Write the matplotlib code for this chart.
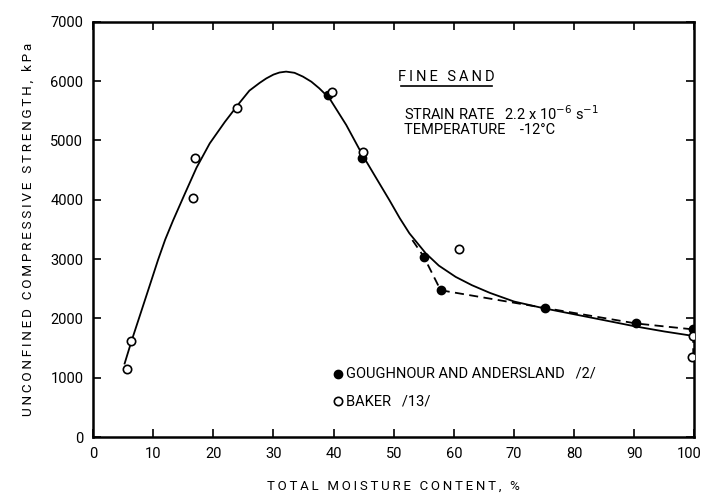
import matplotlib
matplotlib.use("Agg")
import matplotlib.pyplot as plt
from matplotlib.transforms import ScaledTranslation

plt.rcParams['font.family'] = ['Roboto', 'DejaVu Sans']

# Goughnour and Andersland /2/ (filled)
ga_moisture = [39.1, 44.7, 55.0, 57.8, 75.2, 90.3, 99.7]
ga_strength = [5760, 4710, 3040, 2475, 2175, 1915, 1815]

# Baker /13/ (open)
baker_moisture = [5.7, 6.3, 16.7, 16.9, 24.0, 39.8, 44.9, 60.9, 99.7, 99.6]
baker_strength = [1150, 1620, 4030, 4700, 5550, 5810, 4810, 3175, 1710, 1345]

# hand-drawn trend curve
curve_x = [5.25, 6.4, 8.0, 9.5, 10.8, 12.0, 13.3, 15.3, 17.2, 19.4, 21.9,
           24.4, 26.0, 27.7, 28.8, 30.0, 31.0, 32.1, 33.5, 34.9, 36.3,
           37.6, 39.3, 42.1, 44.8, 47.0, 49.3, 51.0, 52.6, 55.3, 57.5,
           60.3, 63.0, 66.0, 70.0, 75.0, 80.0, 85.0, 90.2, 95.0, 99.8]
curve_y = [1240, 1620, 2115, 2580, 2985, 3330, 3650, 4110, 4540, 4950, 5310,
           5640, 5840, 5970, 6045, 6110, 6145, 6160, 6140, 6076, 5990,
           5880, 5712, 5261, 4755, 4380, 3990, 3690, 3435, 3100, 2890,
           2700, 2560, 2430, 2285, 2170, 2070, 1970, 1865, 1780, 1705]

# dashed line through Goughnour points
dash_x = [53.1, 55.0, 57.8, 75.2, 90.3, 99.8, 99.8]
dash_y = [3320, 3040, 2475, 2175, 1915, 1815, 1345]

fig = plt.figure(figsize=(7.05, 4.95), dpi=100)
ax = fig.add_axes([0.132, 0.117, 0.853, 0.839])

ax.plot(curve_x, curve_y, color='black', lw=1.3, zorder=2)
ax.plot(dash_x, dash_y, color='black', lw=1.3, ls=(0, (5, 3)), zorder=2)
ax.plot(ga_moisture, ga_strength, 'o', color='black', ms=6, zorder=3)
ax.plot(baker_moisture, baker_strength, 'o', mfc='white', mec='black',
        mew=1.2, ms=6, zorder=4)

ax.set_xlim(0, 100)
ax.set_ylim(0, 7000)
ax.set_xticks(range(0, 101, 10))
ax.set_yticks(range(0, 7001, 1000))
ax.tick_params(direction='in', length=6, width=1.2, top=True, right=True,
               labelsize=10.5, pad=7)
for s in ax.spines.values():
    s.set_linewidth(1.8)

# keep the "100" label inside the canvas
last = ax.get_xticklabels()[-1]
last.set_transform(last.get_transform() + ScaledTranslation(-4 / 72, 0, fig.dpi_scale_trans))

ts = '\u2009'
ax.set_xlabel(ts.join('TOTAL MOISTURE CONTENT, %'), fontsize=9.5, labelpad=14)
ax.set_ylabel(ts.join('UNCONFINED COMPRESSIVE STRENGTH, kPa'), fontsize=9.7,
              labelpad=11)

# annotations
ax.text(58.8, 6070, ts.join('FINE SAND'), fontsize=10.5, ha='center', va='center')
ax.plot([58.8 - 7.6, 58.8 + 7.6], [5910, 5910], color='black', lw=1.2)
ax.text(51.7, 5450, r'STRAIN RATE   2.2 x 10$^{-6}$ s$^{-1}$', fontsize=10.5,
        va='center')
ax.text(51.7, 5170, 'TEMPERATURE    -12°C', fontsize=10.5, va='center')

# legend drawn by hand
ax.plot(40.7, 1070, 'o', color='black', ms=6)
ax.text(42.0, 1070, 'GOUGHNOUR AND ANDERSLAND   /2/', fontsize=10.5, va='center')
ax.plot(40.7, 600, 'o', mfc='white', mec='black', mew=1.2, ms=6)
ax.text(42.0, 600, 'BAKER   /13/', fontsize=10.5, va='center')

fig.savefig('out.png', dpi=100)
